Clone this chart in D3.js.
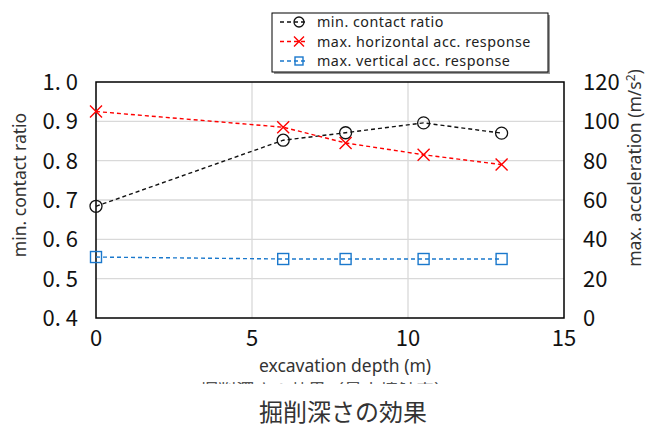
<!DOCTYPE html>
<html>
<head>
<meta charset="utf-8">
<script src="https://cdn.jsdelivr.net/npm/d3@7"></script>
<style>
  body { margin: 0; background: #fff; }
  svg { display: block; }
  .tick-num { font-family: "Noto Sans CJK JP", sans-serif; font-size: 22px; fill: #111; }
  .axis-title { font-family: "Noto Sans", sans-serif; font-size: 17.5px; fill: #333; }
  .legend-text { font-family: "Noto Sans", sans-serif; font-size: 14.3px; letter-spacing: 0.5px; fill: #222; }
  .grid line { stroke: #d9d9d9; stroke-width: 1.3; }
</style>
</head>
<body>
<div id="chart"></div>
<script>
'use strict';

// data
var depth = [ 0, 6, 8, 10.5, 13 ];
var contactRatio = [ 0.684, 0.852, 0.871, 0.896, 0.870 ];
var horizAcc = [ 105, 97, 89, 83, 78 ];
var vertAcc = [ 31, 30, 30, 30, 30 ];

var xTicks = [ 0, 5, 10, 15 ];
var yLeftTicks = [ 0.4, 0.5, 0.6, 0.7, 0.8, 0.9, 1.0 ];
var yRightTicks = [ 0, 20, 40, 60, 80, 100, 120 ];

var seriesNames = [ 'min. contact ratio', 'max. horizontal acc. response', 'max. vertical acc. response' ];
var seriesColors = [ '#111111', '#ff0000', '#1a78cc' ];

var width = 646, height = 425;
var margin = { top: 82, right: 82, bottom: 107, left: 96 };
var plotW = width - margin.left - margin.right,
    plotH = height - margin.top - margin.bottom;

var svg = d3.select( '#chart' ).append( 'svg' )
    .attr( 'width', width )
    .attr( 'height', height );

var g = svg.append( 'g' )
    .attr( 'transform', 'translate(' + margin.left + ',' + margin.top + ')' );

var x = d3.scaleLinear().domain( [ 0, 15 ] ).range( [ 0, plotW ] );
var yL = d3.scaleLinear().domain( [ 0.4, 1.0 ] ).range( [ plotH, 0 ] );
var yR = d3.scaleLinear().domain( [ 0, 120 ] ).range( [ plotH, 0 ] );

// gridlines
g.append( 'g' ).attr( 'class', 'grid' )
  .selectAll( 'line.h' )
  .data( yLeftTicks.slice( 1, -1 ) )
  .enter().append( 'line' )
    .attr( 'x1', 0 ).attr( 'x2', plotW )
    .attr( 'y1', function( d ) { return yL( d ); } )
    .attr( 'y2', function( d ) { return yL( d ); } );

g.append( 'g' ).attr( 'class', 'grid' )
  .selectAll( 'line.v' )
  .data( xTicks.slice( 1, -1 ) )
  .enter().append( 'line' )
    .attr( 'y1', 0 ).attr( 'y2', plotH )
    .attr( 'x1', function( d ) { return x( d ); } )
    .attr( 'x2', function( d ) { return x( d ); } );

// frame
g.append( 'rect' )
  .attr( 'width', plotW ).attr( 'height', plotH )
  .attr( 'fill', 'none' )
  .attr( 'stroke', '#000' )
  .attr( 'stroke-width', 1.5 );

// tick labels
g.selectAll( 'text.yl' )
  .data( yLeftTicks ).enter().append( 'text' )
    .attr( 'class', 'tick-num' )
    .attr( 'text-anchor', 'end' )
    .attr( 'x', -18 )
    .attr( 'y', function( d ) { return yL( d ) + 8; } )
    .text( function( d ) { return d3.format( '.1f' )( d ).replace( '.', '. ' ); } );

g.selectAll( 'text.yr' )
  .data( yRightTicks ).enter().append( 'text' )
    .attr( 'class', 'tick-num' )
    .attr( 'text-anchor', 'start' )
    .attr( 'x', plotW + 19 )
    .attr( 'y', function( d ) { return yR( d ) + 8; } )
    .text( function( d ) { return d; } );

g.selectAll( 'text.xt' )
  .data( xTicks ).enter().append( 'text' )
    .attr( 'class', 'tick-num' )
    .attr( 'text-anchor', 'middle' )
    .attr( 'x', function( d ) { return x( d ); } )
    .attr( 'y', plotH + 28 )
    .text( function( d ) { return d; } );

// axis titles
g.append( 'text' )
  .attr( 'class', 'axis-title' )
  .attr( 'text-anchor', 'middle' )
  .attr( 'x', plotW / 2 + 15 )
  .attr( 'y', plotH + 54 )
  .text( 'excavation depth (m)' );

g.append( 'text' )
  .attr( 'class', 'axis-title' )
  .attr( 'text-anchor', 'middle' )
  .attr( 'transform', 'translate(' + ( -70 ) + ',' + ( plotH / 2 - 15 ) + ') rotate(-90)' )
  .text( 'min. contact ratio' );

var rt = g.append( 'text' )
  .attr( 'class', 'axis-title' )
  .attr( 'text-anchor', 'middle' )
  .attr( 'transform', 'translate(' + ( plotW + 77 ) + ',' + ( plotH / 2 - 32 ) + ') rotate(-90)' );
rt.append( 'tspan' ).text( 'max. acceleration (m/s' );
rt.append( 'tspan' ).attr( 'dy', -6 ).style( 'font-size', '12px' ).text( '2' );
rt.append( 'tspan' ).attr( 'dy', 6 ).text( ')' );

// lines
var pts = function( vals, ys ) {
  return depth.map( function( d, i ) { return [ x( d ), ys( vals[i] ) ]; } );
};
var series = [
  pts( contactRatio, yL ),
  pts( horizAcc, yR ),
  pts( vertAcc, yR )
];

series.forEach( function( p, k ) {
  g.append( 'path' )
    .attr( 'd', d3.line()( p ) )
    .attr( 'fill', 'none' )
    .attr( 'stroke', seriesColors[k] )
    .attr( 'stroke-width', 1.4 )
    .attr( 'stroke-dasharray', '4,3' );
} );

function drawMarker( sel, k, cx, cy ) {
  var c = seriesColors[k];
  if ( k === 0 ) {
    sel.append( 'circle' ).attr( 'cx', cx ).attr( 'cy', cy ).attr( 'r', 6 )
      .attr( 'fill', 'none' ).attr( 'stroke', c ).attr( 'stroke-width', 1.3 );
  } else if ( k === 1 ) {
    sel.append( 'path' )
      .attr( 'd', 'M' + ( cx - 6 ) + ',' + ( cy - 6 ) + 'L' + ( cx + 6 ) + ',' + ( cy + 6 ) +
                  'M' + ( cx - 6 ) + ',' + ( cy + 6 ) + 'L' + ( cx + 6 ) + ',' + ( cy - 6 ) )
      .attr( 'stroke', c ).attr( 'stroke-width', 1.4 );
  } else {
    sel.append( 'rect' ).attr( 'x', cx - 5.5 ).attr( 'y', cy - 5.5 )
      .attr( 'width', 11 ).attr( 'height', 11 )
      .attr( 'fill', 'none' ).attr( 'stroke', c ).attr( 'stroke-width', 1.4 );
  }
}

series.forEach( function( p, k ) {
  p.forEach( function( q ) { drawMarker( g, k, q[0], q[1] ); } );
} );

// legend
var legend = svg.append( 'g' ).attr( 'transform', 'translate(272,13)' );
legend.append( 'rect' )
  .attr( 'x', 2 ).attr( 'y', 2 )
  .attr( 'width', 276 ).attr( 'height', 59 )
  .attr( 'fill', '#999' );
legend.append( 'rect' )
  .attr( 'width', 276 ).attr( 'height', 59 )
  .attr( 'fill', '#fff' )
  .attr( 'stroke', '#000' ).attr( 'stroke-width', 1 );

seriesNames.forEach( function( name, k ) {
  var ly = 9 + k * 19.5;
  legend.append( 'line' )
    .attr( 'x1', 8 ).attr( 'x2', 34 )
    .attr( 'y1', ly ).attr( 'y2', ly )
    .attr( 'stroke', seriesColors[k] )
    .attr( 'stroke-width', 1.3 )
    .attr( 'stroke-dasharray', '4,3' );
  var m = legend.append( 'g' );
  drawMarker( m, k, 27, ly );
  m.selectAll( 'circle' ).attr( 'r', 5 );
  if ( k === 1 ) {
    m.select( 'path' ).attr( 'd', 'M22,' + ( ly - 5 ) + 'L32,' + ( ly + 5 ) + 'M22,' + ( ly + 5 ) + 'L32,' + ( ly - 5 ) );
  }
  if ( k === 2 ) {
    m.select( 'rect' ).attr( 'x', 23 ).attr( 'y', ly - 4 ).attr( 'width', 8 ).attr( 'height', 8 );
  }
  legend.append( 'text' )
    .attr( 'class', 'legend-text' )
    .attr( 'x', 45 )
    .attr( 'y', ly + 5 )
    .text( name );
} );

// clipped caption fragment (only its top edge shows) and title
svg.append( 'clipPath' ).attr( 'id', 'frag' )
  .append( 'rect' ).attr( 'x', 0 ).attr( 'y', 382 ).attr( 'width', width ).attr( 'height', 2 );
svg.append( 'text' )
  .attr( 'clip-path', 'url(#frag)' )
  .attr( 'text-anchor', 'middle' )
  .attr( 'x', 326 ).attr( 'y', 397 )
  .style( 'font-family', '"Noto Sans CJK JP", sans-serif' )
  .style( 'font-size', '18px' )
  .style( 'fill', '#555' )
  .text( '掘削深さの効果（最小接触率）' );

svg.append( 'text' )
  .attr( 'text-anchor', 'middle' )
  .attr( 'x', 343 ).attr( 'y', 421 )
  .style( 'font-family', '"Noto Sans CJK JP", sans-serif' )
  .style( 'font-size', '24px' )
  .style( 'fill', '#333' )
  .text( '掘削深さの効果' );
</script>
</body>
</html>
